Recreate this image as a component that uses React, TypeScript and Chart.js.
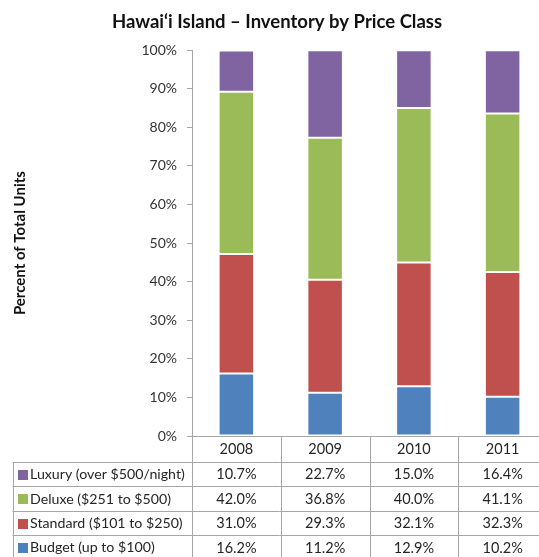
import React, { useEffect, useRef } from "react";
import { Chart, registerables } from "chart.js";

Chart.register(...registerables);

const years = ["2008", "2009", "2010", "2011"];
const budget = [16.2, 11.2, 12.9, 10.2];
const standard = [31.0, 29.3, 32.1, 32.3];
const deluxe = [42.0, 36.8, 40.0, 41.1];
const luxury = [10.7, 22.7, 15.0, 16.4];
const seriesNames = [
  "Budget (up to $100)",
  "Standard ($101 to $250)",
  "Deluxe ($251 to $500)",
  "Luxury (over $500/night)",
];
const seriesColors = ["#4f81bd", "#c0504d", "#9bbb59", "#8064a2"];
const yTicks = [0, 10, 20, 30, 40, 50, 60, 70, 80, 90, 100];
const chartTitle = "Hawai\u2018i Island \u2013 Inventory by Price Class";
const yTitle = "Percent of Total Units";

const FONT = "Lato";
const LINE = "#a6a6a6";
const TEXT = "#262626";

const tablePlugin = {
  id: "dataTable",
  afterDraw(chart: any) {
    const { ctx, chartArea, scales } = chart;
    const x = scales.x;
    const n = years.length;
    const step = n > 1 ? x.getPixelForValue(1) - x.getPixelForValue(0) : chartArea.right - chartArea.left;
    const top = chartArea.bottom;
    const headerH = 26;
    const rowH = 24.4;
    const tableLeft = 12.5;
    const bottom = chart.height + 5;
    const rowsTop = top + headerH;
    const datasets = chart.data.datasets;
    const order = [3, 2, 1, 0];

    ctx.save();
    ctx.strokeStyle = LINE;
    ctx.lineWidth = 1;
    for (let i = 0; i <= n; i++) {
      const px = Math.round(x.getPixelForValue(0) - step / 2 + i * step) + 0.5;
      ctx.beginPath();
      ctx.moveTo(px, top);
      ctx.lineTo(px, bottom);
      ctx.stroke();
    }
    ctx.beginPath();
    ctx.moveTo(Math.round(tableLeft) + 0.5, rowsTop);
    ctx.lineTo(Math.round(tableLeft) + 0.5, bottom);
    ctx.stroke();
    const rightEdge = x.getPixelForValue(n - 1) + step / 2;
    for (let r = 0; r <= order.length; r++) {
      const py = Math.round(rowsTop + r * rowH) + 0.5;
      ctx.beginPath();
      ctx.moveTo(tableLeft, py);
      ctx.lineTo(rightEdge, py);
      ctx.stroke();
    }

    ctx.textBaseline = "middle";
    order.forEach((di, r) => {
      const cy = rowsTop + r * rowH + rowH / 2 + 0.5;
      const ds = datasets[di];
      ctx.fillStyle = ds.backgroundColor;
      ctx.fillRect(18, Math.round(cy - 5), 10, 10);
      ctx.fillStyle = TEXT;
      ctx.font = `14.2px ${FONT}`;
      ctx.textAlign = "left";
      ctx.fillText(ds.label, 30, cy);
      ctx.textAlign = "center";
      ctx.font = `14.5px ${FONT}`;
      ds.data.forEach((v: number, i: number) => {
        ctx.fillText(v.toFixed(1) + "%", x.getPixelForValue(i), cy);
      });
    });
    ctx.restore();
  },
};

export default function App() {
  const ref = useRef<HTMLCanvasElement>(null);
  useEffect(() => {
    document.body.style.margin = "0";
    const canvas = ref.current!;
    const chart = new Chart(canvas, {
      type: "bar",
      data: {
        labels: years,
        datasets: [budget, standard, deluxe, luxury].map((d, i) => ({
          label: seriesNames[i],
          data: d,
          backgroundColor: seriesColors[i],
          borderColor: "rgba(255,255,255,0.45)",
          borderWidth: 1,
          borderSkipped: false,
          barPercentage: 0.4,
          categoryPercentage: 1,
        })),
      },
      options: {
        animation: false,
        responsive: false,
        devicePixelRatio: 1,
        layout: { padding: { left: 7, right: 13, top: 0, bottom: 95 } },
        plugins: {
          legend: { display: false },
          tooltip: { enabled: false },
          title: {
            display: true,
            text: chartTitle,
            color: "#111",
            font: { family: FONT, size: 18.5, weight: "bold" },
            padding: { top: 11, bottom: 17 },
          },
        },
        scales: {
          x: {
            stacked: true,
            grid: { display: false, drawTicks: false },
            border: { display: true, color: LINE },
            ticks: { color: TEXT, font: { family: FONT, size: 14.5 }, padding: 5 },
            afterFit(scale: any) {
              scale.height = 26;
            },
          },
          y: {
            stacked: true,
            min: 0,
            max: 100,
            afterBuildTicks(scale: any) {
              scale.ticks = yTicks.map((v) => ({ value: v }));
            },
            ticks: {
              color: "#333",
              font: { family: FONT, size: 14 },
              padding: 10,
              callback: (v: any) => `${v}%`,
            },
            grid: { drawOnChartArea: false, drawTicks: true, tickLength: 5, color: LINE },
            border: { display: true, color: LINE },
            title: {
              display: true,
              text: yTitle,
              color: "#111",
              font: { family: FONT, size: 15, weight: "bold" },
              padding: { top: 4, bottom: 0 },
            },
            afterFit(scale: any) {
              scale.width = 185;
            },
          },
        },
      },
      plugins: [tablePlugin],
    });
    return () => chart.destroy();
  }, []);
  return (
    <div style={{ width: 539, height: 557, overflow: "hidden", position: "relative" }}>
      <canvas ref={ref} width={560} height={557} style={{ width: 560, height: 557, display: "block" }} />
    </div>
  );
}
